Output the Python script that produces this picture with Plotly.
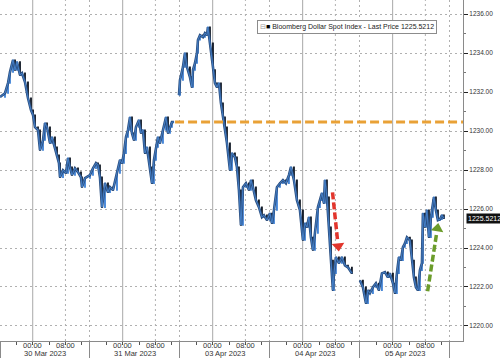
import plotly.graph_objects as go

# ---- data (x in trading-session hours from 16:00 on 29 Mar; each session = 22 h) ----
hours = [0.0, 1.22, 1.96, 2.44, 3.18, 3.67, 4.16, 4.89, 5.38, 6.11, 6.84, 7.58, 8.07, 8.56, 9.29, 9.78,
         10.51, 11.0, 11.49, 12.22, 12.71, 13.44, 13.93, 14.42, 14.67, 15.4, 16.13, 16.62, 17.11, 17.6,
         18.33, 19.07, 19.8, 20.04, 20.78, 22.0, 22.73, 23.47, 23.96, 24.44, 24.93, 25.67, 26.4, 26.89,
         27.62, 28.6, 29.33, 29.82, 30.31, 30.8, 31.29, 31.78, 32.27, 32.76, 33.24, 33.98, 34.47, 34.96,
         35.44, 35.93, 36.67, 37.16, 37.64, 38.13, 38.62, 39.11, 39.84, 40.58, 41.07, 41.56, 42.04, 42.53,
         43.76, 44.0, 44.73, 45.22, 45.71, 46.44, 46.93, 47.18, 47.67, 48.16, 48.4, 48.89, 49.62, 50.11,
         50.6, 50.84, 51.33, 52.07, 52.56, 53.04, 53.53, 54.02, 54.51, 55.0, 55.49, 56.22, 56.71, 57.44,
         57.93, 58.42, 58.91, 59.4, 60.13, 60.87, 61.36, 61.84, 62.58, 63.31, 64.04, 64.53, 65.27, 66.0,
         66.49, 66.98, 67.71, 68.44, 69.18, 69.91, 70.64, 71.13, 71.87, 72.6, 73.33, 74.07, 74.56, 75.04,
         75.53, 76.02, 76.51, 77.0, 77.73, 78.22, 78.71, 79.2, 79.44, 79.93, 80.42, 80.91, 81.4, 81.64,
         82.13, 82.87, 83.6, 84.33, 85.07, 86.04,
         88.0, 88.73, 89.47, 89.96, 90.44, 91.18, 91.91, 92.64, 93.38, 94.11, 94.84, 95.33, 96.07, 96.56,
         97.04, 97.53, 98.02, 98.51, 99.0, 99.49, 100.22, 100.71, 101.2, 101.69, 102.18, 102.67, 103.16,
         103.4, 103.89, 104.38, 104.87, 105.36, 105.84, 106.09, 106.58, 107.07, 107.56, 108.04, 108.53]

price = [1231.74, 1231.94, 1232.46, 1233.02, 1233.64, 1233.13, 1233.54, 1232.87, 1232.97, 1232.51,
         1231.69, 1231.07, 1230.82, 1230.20, 1230.05, 1229.02, 1229.53, 1230.40, 1230.20, 1229.38,
         1229.69, 1229.17, 1228.76, 1228.35, 1227.63, 1227.99, 1227.84, 1228.61, 1228.15, 1227.74,
         1228.09, 1227.89, 1227.63, 1227.12, 1227.58, 1227.74, 1228.09, 1228.35, 1228.25, 1227.63,
         1226.09, 1227.32, 1226.86, 1227.12, 1226.97, 1227.84, 1228.51, 1228.35, 1228.86, 1229.69,
         1230.05, 1230.71, 1229.89, 1229.53, 1230.20, 1230.56, 1229.89, 1230.05, 1228.86, 1229.17,
         1228.15, 1227.32, 1228.51, 1229.17, 1229.69, 1229.38, 1230.05, 1230.71, 1229.89, 1230.20,
         1230.46, 1230.46,
         1231.84, 1232.61, 1233.28, 1234.00, 1233.28, 1232.77, 1232.25, 1233.13, 1233.48, 1234.00,
         1234.67, 1234.92, 1234.82, 1235.02, 1234.92, 1235.33, 1234.51, 1233.13, 1232.46, 1232.25,
         1232.46, 1231.43, 1230.71, 1230.20, 1229.38, 1227.99, 1228.86, 1228.66, 1228.15, 1226.97,
         1225.17, 1227.12, 1227.32, 1226.97, 1227.48, 1227.12, 1226.45, 1226.09, 1225.58, 1225.68,
         1225.43, 1225.78, 1225.27, 1225.94, 1227.12, 1227.32, 1227.48, 1227.32, 1227.74, 1228.15,
         1227.48, 1226.45, 1225.94, 1224.40, 1225.27, 1225.07, 1225.58, 1224.55, 1223.89, 1224.76,
         1226.09, 1226.45, 1226.81, 1226.30, 1227.48, 1226.61, 1225.07, 1223.37, 1221.83, 1222.70,
         1223.53, 1223.22, 1223.53, 1223.11, 1223.01, 1222.70,
         1222.34, 1221.99, 1221.16, 1221.83, 1221.68, 1221.99, 1222.19, 1221.83, 1222.70, 1222.76,
         1222.50, 1222.70, 1222.19, 1221.68, 1222.70, 1223.53, 1223.37, 1224.04, 1224.24, 1224.55,
         1224.40, 1223.37, 1222.50, 1221.99, 1221.83, 1222.86, 1223.22, 1225.78, 1225.07, 1225.94,
         1224.55, 1225.58, 1226.45, 1226.61, 1225.94, 1225.43, 1225.47, 1225.68, 1225.52]

session_start_hours = [43.76, 88.0]          # sessions that open with a gap
friday_close = 1230.46
last_price = 1225.5212
legend_text = "Bloomberg Dollar Spot Index - Last Price 1225.5212"

day_len = 22
day_labels = ["30 Mar 2023", "31 Mar 2023", "03 Apr 2023", "04 Apr 2023", "05 Apr 2023"]
midnight_offset = 8      # 00:00 is 8 session hours after day start
morning_offset = 16      # 08:00
time_labels = ["00:00", "08:00"]

y_min, y_max = 1219.23, 1236.72
x_max = 113.2

red_arrow = dict(x=[81.3, 82.55], y=[1226.85, 1224.35], tip=(82.7, 1224.1))
green_arrow = dict(x=[104.55, 106.75], y=[1221.78, 1224.75], tip=(106.95, 1225.0))

# ---- derived candles ----
opens, highs, lows = [], [], []
for i, (h, p) in enumerate(zip(hours, price)):
    o = p if (i == 0 or h in session_start_hours) else price[i - 1]
    opens.append(o)
    highs.append(max(o, p))
    lows.append(min(o, p))

line_x, line_y = [], []
for h, p in zip(hours, price):
    if h in session_start_hours:
        line_x.append(None)
        line_y.append(None)
    line_x.append(h)
    line_y.append(p)

fig = go.Figure()
fig.add_trace(go.Scatter(x=line_x, y=line_y, mode="lines",
                         line=dict(color="#2b4f80", width=2.6), hoverinfo="skip", showlegend=False))
fig.add_trace(go.Scatter(x=line_x, y=line_y, mode="lines",
                         line=dict(color="#4a8ad8", width=0.8), hoverinfo="skip", showlegend=False))
fig.add_trace(go.Candlestick(x=hours, open=opens, high=highs, low=lows, close=price,
                             increasing=dict(line=dict(color="#3f82d6", width=1.3), fillcolor="#3f82d6"),
                             decreasing=dict(line=dict(color="#0e1622", width=1.3), fillcolor="#0e1622"),
                             whiskerwidth=0, showlegend=False))

# Friday close line
fig.add_trace(go.Scatter(x=[42.8, x_max], y=[friday_close, friday_close], mode="lines",
                         line=dict(color="#e9a136", width=3, dash="9px,4px"), showlegend=False))

# arrows
fig.add_trace(go.Scatter(x=red_arrow["x"], y=red_arrow["y"], mode="lines",
                         line=dict(color="#e2352c", width=3.5, dash="7px,3px"), showlegend=False))
fig.add_trace(go.Scatter(x=[red_arrow["tip"][0]], y=[red_arrow["tip"][1]], mode="markers",
                         marker=dict(symbol="triangle-down", size=11, color="#e2352c", angle=-6),
                         showlegend=False))
fig.add_trace(go.Scatter(x=green_arrow["x"], y=green_arrow["y"], mode="lines",
                         line=dict(color="#6b9c2a", width=3.5, dash="7px,3px"), showlegend=False))
fig.add_trace(go.Scatter(x=[green_arrow["tip"][0]], y=[green_arrow["tip"][1]], mode="markers",
                         marker=dict(symbol="triangle-up", size=11, color="#6b9c2a", angle=9),
                         showlegend=False))

n_days = len(day_labels)
boundaries = [d * day_len for d in range(n_days + 1)]
midnights = [d * day_len + midnight_offset for d in range(n_days)]
mornings = [d * day_len + morning_offset for d in range(n_days)]
minor_ticks = [d * day_len + k for d in range(n_days) for k in (4, 8, 12, 16, 20)]

shapes = []
for xv in midnights:
    shapes.append(dict(type="line", xref="x", yref="paper", x0=xv, x1=xv, y0=0, y1=1,
                       line=dict(color="#a8a8a8", width=1), layer="below"))
for xv in mornings:
    shapes.append(dict(type="line", xref="x", yref="paper", x0=xv, x1=xv, y0=0, y1=1,
                       line=dict(color="#b0b0b0", width=1, dash="2px,3px"), layer="below"))

annotations = []
font_lbl = dict(family="Liberation Sans", size=7.5, color="#333333")
for d in range(n_days):
    annotations.append(dict(x=midnights[d], y=-0.0135, xref="x", yref="paper", text=time_labels[0],
                            showarrow=False, font=font_lbl, xanchor="center", yanchor="middle"))
    annotations.append(dict(x=mornings[d], y=-0.0135, xref="x", yref="paper", text=time_labels[1],
                            showarrow=False, font=font_lbl, xanchor="center", yanchor="middle"))
    annotations.append(dict(x=d * day_len + day_len / 2, y=-0.038, xref="x", yref="paper",
                            text=day_labels[d], showarrow=False, font=font_lbl,
                            xanchor="center", yanchor="middle"))

# legend box
annotations.append(dict(x=0.7505, y=0.921, xref="paper", yref="paper",
                        text="<span style='color:#999'>⊟</span><span style='color:#000'>■</span> " + legend_text,
                        showarrow=False, font=dict(family="Liberation Sans", size=7, color="#222"),
                        bgcolor="white", bordercolor="#8c8c8c", borderwidth=1, borderpad=2,
                        xanchor="center", yanchor="middle"))
# last price tag
annotations.append(dict(x=1.0, y=last_price, xref="paper", yref="y", text=f"{last_price:.4f}",
                        showarrow=False, font=dict(family="Liberation Sans", size=7, color="white"),
                        bgcolor="#111111", borderpad=1, xanchor="left", yanchor="middle", xshift=3))

fig.update_layout(
    width=500, height=358,
    margin=dict(l=0, r=37, t=0, b=17),
    paper_bgcolor="white", plot_bgcolor="white",
    shapes=shapes, annotations=annotations,
    showlegend=False,
    xaxis=dict(range=[0, x_max], showline=True, linecolor="#8a8a8a", linewidth=1,
               tickmode="array", tickvals=boundaries, showticklabels=False,
               ticks="outside", ticklen=17, tickcolor="#8a8a8a", tickwidth=1,
               showgrid=True, gridcolor="#b0b0b0", griddash="2px,3px", gridwidth=1,
               minor=dict(tickmode="array", tickvals=minor_ticks, ticks="outside", ticklen=3,
                          tickcolor="#555555", showgrid=False),
               rangeslider=dict(visible=False), zeroline=False, fixedrange=True),
    yaxis=dict(range=[y_min, y_max], side="right", showline=True, linecolor="#8a8a8a", linewidth=1,
               tickmode="linear", tick0=1220, dtick=2, tickformat=".2f",
               ticks="outside", ticklen=4, tickcolor="#222222", tickwidth=1,
               tickfont=dict(family="Liberation Sans", size=6.5, color="#333333"),
               showgrid=True, gridcolor="#b0b0b0", griddash="2px,3px", gridwidth=1,
               minor=dict(dtick=1, ticks="outside", ticklen=2, tickcolor="#777777", showgrid=False),
               zeroline=False, fixedrange=True),
)

fig.write_html("out.html")
